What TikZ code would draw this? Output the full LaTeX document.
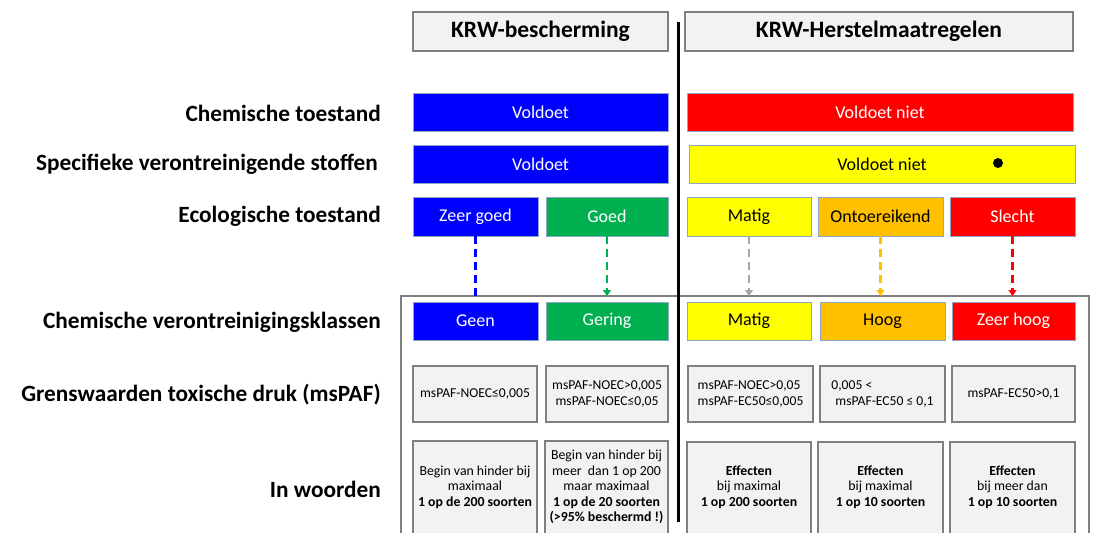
\documentclass[tikz,border=0pt]{standalone}
\usepackage{fontspec}
\setmainfont{Carlito}
\usetikzlibrary{arrows.meta}
\definecolor{cblue}{HTML}{0000FF}
\definecolor{cgreen}{HTML}{00B050}
\definecolor{cyellow}{HTML}{FFFF00}
\definecolor{corange}{HTML}{FFC000}
\definecolor{cred}{HTML}{FF0000}
\definecolor{cgrayarrow}{HTML}{A6A6A6}
\definecolor{boxline}{HTML}{8FA6C6}
\definecolor{gfill}{HTML}{F2F2F2}
\definecolor{gline}{HTML}{7F7F7F}
\newcommand\mybox[7]{%
  \pgfmathsetmacro\bw{#4-#2}\pgfmathsetmacro\bh{#5-#3}%
  \node[#6, anchor=north west, minimum width=\bw pt, minimum height=\bh pt] (#1) at (#2,#3) {#7};}
\tikzset{
  cbox/.style={draw=boxline, line width=0.8pt, inner sep=0pt, outer sep=0pt, font=\fontsize{18}{21}\selectfont},
  wtxt/.style={text=white},
  gbox/.style={fill=gfill, draw=gline, line width=1.2pt, inner sep=0pt, outer sep=0pt, align=center, font=\fontsize{13.6}{16}\selectfont},
  hbox/.style={fill=gfill, draw=gline, line width=1.2pt, inner sep=0pt, outer sep=0pt, font=\fontsize{23.5}{27}\selectfont\bfseries},
  lab/.style={anchor=east, inner sep=0pt, font=\fontsize{23.3}{27}\selectfont\bfseries},
  wtext/.style={align=center, inner sep=0pt, font=\fontsize{13.8}{15.6}\selectfont},
  darr/.style={line width=2.2pt, dash pattern=on 8pt off 5pt},
  tip/.style={-{Triangle[length=6pt,width=8pt]}}
}
\begin{document}
\begin{tikzpicture}[x=1pt,y=-1pt]
\useasboundingbox (0,0) rectangle (1093,533);
% frame
\mybox{frame}{401}{296}{1089}{560}{draw=gline, line width=1.2pt, inner sep=0pt, outer sep=0pt}{}
% headers
\mybox{h1}{413}{12}{668}{51}{hbox}{KRW-bescherming}
\mybox{h2}{685}{12}{1073}{51}{hbox}{KRW-Herstelmaatregelen}
% row labels
\node[lab] (l1) at (381,113) {Chemische toestand};
\node[lab] (l2) at (378,164) {Specifieke verontreinigende stoffen};
\node[lab] (l3) at (381,216) {Ecologische toestand};
\node[lab] (l4) at (381,322) {Chemische verontreinigingsklassen};
\node[lab] (l5) at (381,395) {Grenswaarden toxische druk (msPAF)};
\node[lab] (l6) at (381,489) {In woorden};
% row 1
\mybox{a1}{413}{93}{668}{131}{cbox,fill=cblue,wtxt}{Voldoet}
\mybox{a2}{687}{93}{1073}{131}{cbox,fill=cred,wtxt}{Voldoet niet}
% row 2
\mybox{b1}{413}{145}{668}{183}{cbox,fill=cblue,wtxt}{Voldoet}
\mybox{b2}{689}{145}{1075}{183}{cbox,fill=cyellow}{Voldoet niet}
\fill (998,163) circle (5pt);
% row 3
\mybox{c1}{413}{197}{538}{236}{cbox,fill=cblue,wtxt}{Zeer goed}
\mybox{c2}{546}{197}{668}{236}{cbox,fill=cgreen,wtxt}{Goed}
\mybox{c3}{687}{197}{811}{236}{cbox,fill=cyellow}{Matig}
\mybox{c4}{818}{197}{943}{236}{cbox,fill=corange}{Ontoereikend}
\mybox{c5}{950}{197}{1075}{236}{cbox,fill=cred,wtxt}{Slecht}
% row 4
\mybox{d1}{413}{302}{538}{340}{cbox,fill=cblue,wtxt}{Geen}
\mybox{d2}{546}{302}{668}{340}{cbox,fill=cgreen,wtxt}{Gering}
\mybox{d3}{687}{302}{811}{340}{cbox,fill=cyellow}{Matig}
\mybox{d4}{820}{302}{945}{340}{cbox,fill=corange}{Hoog}
\mybox{d5}{952}{302}{1075}{340}{cbox,fill=cred,wtxt}{Zeer hoog}
% row 5
\mybox{e1}{413}{366}{537}{422}{gbox}{msPAF-NOEC≤0,005}
\mybox{e2}{546}{366}{668}{422}{gbox}{msPAF-NOEC>0,005\\msPAF-NOEC≤0,05}
\mybox{e3}{688}{366}{813}{422}{gbox,align=left}{msPAF-NOEC>0,05\\msPAF-EC50≤0,005}
\mybox{e4}{820}{366}{945}{422}{gbox,align=left}{0,005 <\\\hspace{4pt}msPAF-EC50 ≤ 0,1}
\mybox{e5}{952}{366}{1075}{422}{gbox}{msPAF-EC50>0,1}
% row 6
\mybox{f1}{413}{441}{537}{560}{gbox}{}
\mybox{f2}{545}{441}{668}{560}{gbox}{}
\mybox{f3}{687}{442}{811}{560}{gbox}{}
\mybox{f4}{818}{442}{943}{560}{gbox}{}
\mybox{f5}{950}{442}{1075}{560}{gbox}{}
\node[wtext] (t1) at (475,487) {Begin van hinder bij\\maximaal\\\textbf{1 op de 200 soorten}};
\node[wtext] (t2) at (606.5,487) {Begin van hinder bij\\meer\ \ dan 1 op 200\\maar maximaal\\\textbf{1 op de 20 soorten}\\\textbf{(>95\% beschermd !)}};
\node[wtext] (t3) at (749,487) {\textbf{Effecten}\\bij maximal\\\textbf{1 op 200 soorten}};
\node[wtext] (t4) at (880.5,487) {\textbf{Effecten}\\bij maximal\\\textbf{1 op 10 soorten}};
\node[wtext] (t5) at (1012.5,487) {\textbf{Effecten}\\bij meer dan\\\textbf{1 op 10 soorten}};
% divider
\coordinate (vtop) at (678,22);
\coordinate (vbot) at (678,522);
\draw[line width=3pt] (vtop) -- (vbot);
% dashed connectors
\draw[darr, cblue] (c1.south) -- (c1.south |- frame.north);
\draw[darr, tip, cgreen] (c2.south) -- (c2.south |- frame.north);
\draw[darr, tip, cgrayarrow] (c3.south) -- (c3.south |- frame.north);
\draw[darr, tip, corange] (c4.south) -- (c4.south |- frame.north);
\draw[darr, tip, cred] (c5.south) -- (c5.south |- frame.north);
\end{tikzpicture}
\end{document}
